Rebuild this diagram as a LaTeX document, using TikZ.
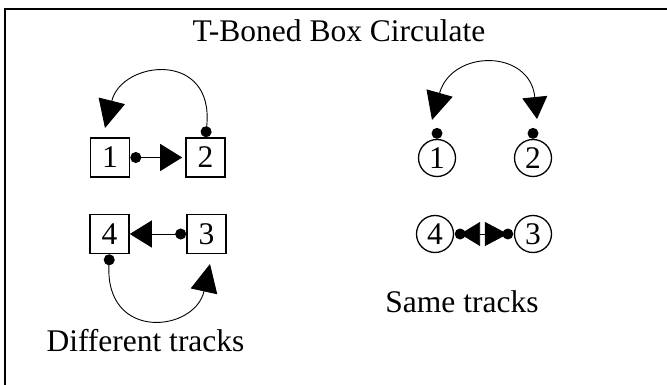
\documentclass[tikz,border=0pt]{standalone}
\usepackage{fontspec}
\setmainfont{Liberation Serif}
\usetikzlibrary{arrows.meta}
\tikzset{
  lbl/.style={font=\fontsize{31.5}{36}\selectfont, inner sep=0pt},
  sqbox/.style={draw, line width=1.6pt, minimum size=39pt, inner sep=0pt, font=\fontsize{31.5}{36}\selectfont},
  rnd/.style={draw, circle, line width=1.3pt, minimum size=37pt, inner sep=0pt, font=\fontsize{31.5}{36}\selectfont},
  conn/.style={line width=0.9pt},
  dotstart/.style={{Circle[length=11pt]}-{Triangle[length=22pt,width=27pt]}},
  dbl/.style={{Triangle[length=28pt,width=27pt]}-{Triangle[length=22pt,width=25pt]}},
  dblsmall/.style={{Triangle[length=20pt,width=24pt]}-{Triangle[length=23pt,width=24pt]}},
}
\begin{document}
\begin{tikzpicture}[x=1pt,y=-1pt]
\useasboundingbox (0,0) rectangle (667,385);
\draw[line width=2pt] (667,9) -- (5,9) -- (5,385);

\node[lbl, anchor=base] (title) at (339,42) {T-Boned Box Circulate};

% left: boxes
\node[sqbox] (b1) at (110,157.5) {1};
\node[sqbox] (b2) at (205.5,157.5) {2};
\node[sqbox] (b4) at (109.5,234) {4};
\node[sqbox] (b3) at (206.5,234) {3};

\draw[conn, dotstart, shorten >=3pt] (b1.east) -- (b2.west);
\draw[conn, dotstart] (b3.west) -- (b4.east);

\coordinate (a12) at (105,128);
\draw[conn, {Circle[length=11pt]}-{Triangle[length=28pt,width=27pt]}]
  (b2.north) .. controls (215,50) and (122,60) .. (a12);

\coordinate (a43) at (210,264);
\draw[conn, {Circle[length=11pt]}-{Triangle[length=28pt,width=27pt]}]
  (b4.south) .. controls (105,342) and (195,332) .. (a43);

\node[lbl, anchor=base] (diff) at (145.5,351) {Different tracks};

% right: circles
\node[rnd] (c1) at (437,158) {1};
\node[rnd] (c2) at (533,158) {2};
\node[rnd] (c4) at (435,234) {4};
\node[rnd] (c3) at (533,234) {3};

\fill ([yshift=5.5pt]c1.north) circle (5.5pt);
\fill ([yshift=5.5pt]c2.north) circle (5.5pt);
\coordinate (t1) at (432,120);
\coordinate (t2) at (537,119);
\draw[conn, dbl] (t1) .. controls (452,49) and (530,49) .. (t2);

\fill ([xshift=6pt]c4.east) circle (5.5pt);
\fill ([xshift=-6pt]c3.west) circle (5.5pt);
\draw[conn, dblsmall, shorten <=6pt, shorten >=6pt] (c4.east) -- (c3.west);

\node[lbl, anchor=base] (same) at (462,312) {Same tracks};
\end{tikzpicture}
\end{document}
